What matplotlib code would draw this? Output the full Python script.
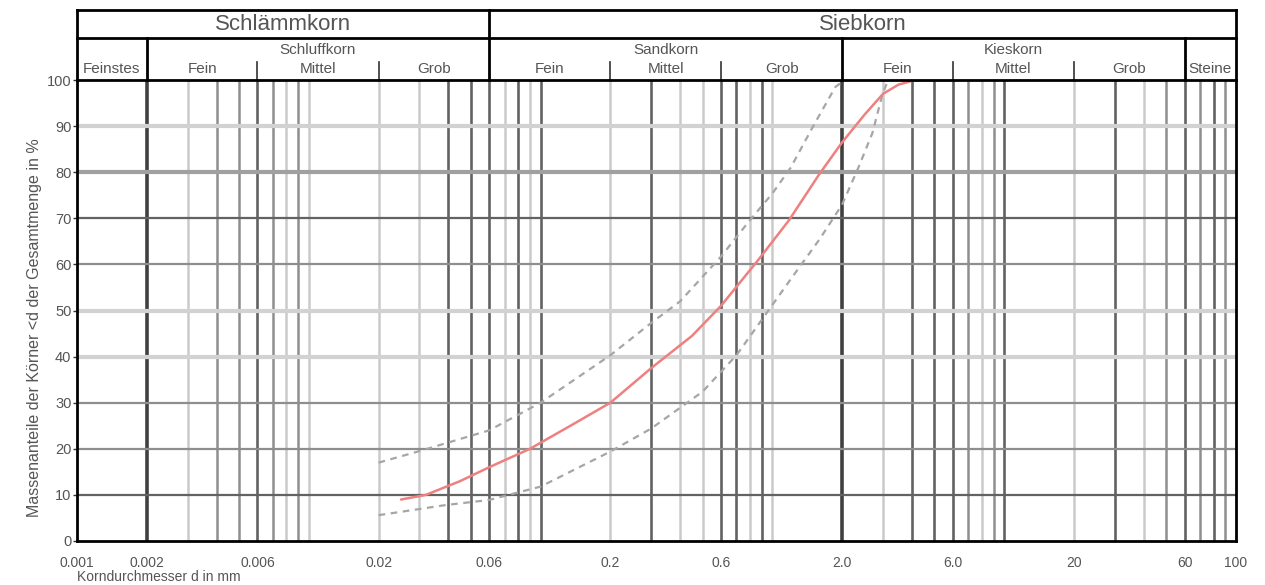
import matplotlib
matplotlib.use("Agg")
import matplotlib.pyplot as plt
from matplotlib.transforms import blended_transform_factory
from matplotlib.ticker import NullLocator

plt.rcParams['font.family'] = ['Liberation Sans', 'DejaVu Sans']

# ---------------- data ----------------
x_ticks = [0.001, 0.002, 0.006, 0.02, 0.06, 0.2, 0.6, 2.0, 6.0, 20, 60, 100]
x_tick_labels = ["0.001", "0.002", "0.006", "0.02", "0.06", "0.2", "0.6",
                 "2.0", "6.0", "20", "60", "100"]
y_ticks = [0, 10, 20, 30, 40, 50, 60, 70, 80, 90, 100]

# measured grading curve (red)
x_red = [0.025, 0.032, 0.045, 0.06, 0.09, 0.14, 0.2, 0.3, 0.45, 0.6, 0.87,
         1.18, 1.59, 2.0, 2.5, 3.0, 3.5, 4.0, 4.5, 6.0]
y_red = [9, 10, 13, 16, 20, 25.5, 30, 37.5, 44.5, 51, 61, 69.6, 79.5, 86.5,
         92.5, 97, 99, 99.8, 100, 100]

# upper envelope (grey dashed)
x_up = [0.02, 0.03, 0.06, 0.1, 0.2, 0.3, 0.4, 0.6, 0.8, 1.0, 1.2, 1.5, 1.87, 2.05]
y_up = [17, 19.5, 24, 30, 40.3, 47.3, 52, 61.7, 69.6, 75.4, 81, 90, 98.5, 100]

# lower envelope (grey dashed)
x_lo = [0.02, 0.039, 0.06, 0.1, 0.2, 0.3, 0.5, 0.6, 0.7, 0.9, 1.22, 1.6, 2.0,
        2.35, 2.7, 2.97, 3.15]
y_lo = [5.6, 7.8, 8.9, 11.8, 19.4, 24.4, 32.4, 36.7, 40.3, 48, 57.3, 65.5, 73,
        81, 88.5, 96.5, 100]

# header classification
main_groups = [("Schlämmkorn", 0.001, 0.06), ("Siebkorn", 0.06, 100)]
sub_groups = [("Schluffkorn", 0.002, 0.06), ("Sandkorn", 0.06, 2.0), ("Kieskorn", 2.0, 60)]
fractions = [("Feinstes", 0.001, 0.002),
             ("Fein", 0.002, 0.006), ("Mittel", 0.006, 0.02), ("Grob", 0.02, 0.06),
             ("Fein", 0.06, 0.2), ("Mittel", 0.2, 0.6), ("Grob", 0.6, 2.0),
             ("Fein", 2.0, 6.0), ("Mittel", 6.0, 20), ("Grob", 20, 60),
             ("Steine", 60, 100)]
major_bounds = [0.06]
sub_bounds = [0.002, 2.0, 60]
fraction_bounds = [0.006, 0.02, 0.2, 0.6, 6.0, 20]

# background grid of the form sheet (value, shade class)
v_grid = [(0.002, 'x'), (0.003, 'l'), (0.004, 'm'), (0.005, 'm'), (0.006, 'd'),
          (0.007, 'm'), (0.008, 'l'), (0.009, 'm'), (0.01, 'l'),
          (0.02, 'l'), (0.03, 'l'), (0.04, 'd'), (0.05, 'd'), (0.06, 'd'),
          (0.07, 'l'), (0.08, 'd'), (0.09, 'l'), (0.1, 'd'),
          (0.2, 'l'), (0.3, 'd'), (0.4, 'l'), (0.5, 'l'), (0.6, 'd'),
          (0.7, 'd'), (0.8, 'l'), (0.9, 'd'), (1.0, 'l'),
          (2.0, 'x'), (3.0, 'l'), (4.0, 'd'), (5.0, 'd'), (6.0, 'd'),
          (7.0, 'm'), (8.0, 'l'), (9.0, 'm'), (10, 'd'),
          (20, 'l'), (30, 'd'), (40, 'l'), (50, 'm'), (60, 'd'),
          (70, 'm'), (80, 'd'), (90, 'm')]
h_grid = [(10, 'd'), (20, 'm'), (30, 'm'), (40, 'L'), (50, 'L'), (60, 'm'),
          (70, 'd'), (80, 'G'), (90, 'L')]

shade = {'x': ('#404040', 2.6), 'd': ('#626262', 1.9), 'm': ('#8e8e8e', 1.8),
         'l': ('#cacaca', 1.8), 'L': ('#d2d2d2', 3.0), 'G': ('#a0a0a0', 3.0)}

# ---------------- figure ----------------
fig = plt.figure(figsize=(12.65, 5.85), dpi=100)
ax = fig.add_axes([77 / 1265, 44 / 585, 1159 / 1265, 461 / 585])
ax.set_xscale('log')
ax.set_xlim(0.001, 100)
ax.set_ylim(0, 100)

for v, s in v_grid:
    c, lw = shade[s]
    ax.axvline(v, color=c, lw=lw, zorder=1)
for v, s in h_grid:
    c, lw = shade[s]
    ax.axhline(v, color=c, lw=lw if s not in 'dm' else 1.6, zorder=1)

ax.plot(x_up, y_up, color='#a6a6a6', lw=1.6, dashes=(3, 2.5), zorder=3)
ax.plot(x_lo, y_lo, color='#a6a6a6', lw=1.6, dashes=(3, 2.5), zorder=3)
ax.plot(x_red, y_red, color='#ef8080', lw=1.8, zorder=4, solid_capstyle='round')

ax.set_xticks(x_ticks)
ax.set_xticklabels(x_tick_labels)
ax.xaxis.set_minor_locator(NullLocator())
ax.set_yticks(y_ticks)
ax.tick_params(axis='x', length=0, pad=11, labelsize=10, labelcolor='#555555')
ax.tick_params(axis='y', length=3, width=1, pad=1, labelsize=10.5,
               labelcolor='#555555', color='#333333')
for sp in ax.spines.values():
    sp.set_linewidth(2)
    sp.set_color('black')
    sp.set_zorder(6)

# ---------------- header table ----------------
tr = blended_transform_factory(ax.transData, ax.transAxes)
top_h = 1 + 70 / 461
mid_h = 1 + 42 / 461
tick_h = 1 + 18 / 461
kw = dict(transform=tr, clip_on=False, color='black', lw=2, solid_capstyle='projecting')
ax.plot([0.001, 100], [top_h, top_h], **kw)
ax.plot([0.001, 100], [mid_h, mid_h], **kw)
ax.plot([0.001, 0.001], [1, top_h], **kw)
ax.plot([100, 100], [1, top_h], **kw)
for b in major_bounds:
    ax.plot([b, b], [1, top_h], **kw)
for b in sub_bounds:
    ax.plot([b, b], [1, mid_h], **kw)
for b in fraction_bounds:
    ax.plot([b, b], [1, tick_h], transform=tr, clip_on=False, color='#333333', lw=1.2)

tcol = '#555555'
for name, a, b in main_groups:
    ax.text((a * b) ** 0.5, 1 + 56 / 461, name, transform=tr, ha='center',
            va='center', fontsize=16, color=tcol)
for name, a, b in sub_groups:
    ax.text((a * b) ** 0.5, 1 + 30 / 461, name, transform=tr, ha='center',
            va='center', fontsize=11, color=tcol)
for name, a, b in fractions:
    ax.text((a * b) ** 0.5, 1 + 11 / 461, name, transform=tr, ha='center',
            va='center', fontsize=11, color=tcol)

fig.text(77 / 1265, 1 - 577 / 585, "Korndurchmesser d in mm", ha='left',
         va='center', fontsize=10, color=tcol)
fig.text(35 / 1265, 1 - 328 / 585, "Massenanteile der Körner <d der Gesamtmenge in %",
         rotation=90, ha='center', va='center', fontsize=11.5, color=tcol)

fig.savefig("out.png", dpi=100)
